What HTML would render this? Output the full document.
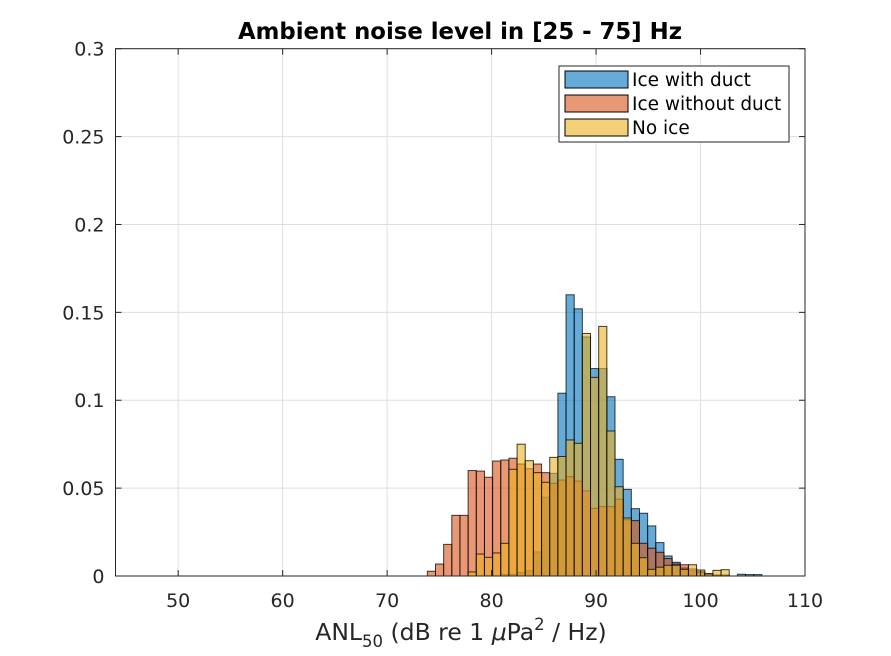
<!DOCTYPE html>
<html><head><meta charset="utf-8"><style>
body{margin:0;background:#fff;}
svg{display:block;font-family:"DejaVu Sans","Liberation Sans",sans-serif;}
</style></head><body>
<svg id="chart" width="891" height="656" viewBox="0 0 891 656">
<rect x="0" y="0" width="891" height="656" fill="#fff"/>
<g id="grid"></g>
<g id="bars"></g>
<g id="axes"></g>
<text x="460" y="39" text-anchor="middle" font-size="22.8" font-weight="bold" fill="#000">Ambient noise level in [25 - 75] Hz</text>
<text x="461" y="640" text-anchor="middle" font-size="23.5" fill="#262626">ANL<tspan font-size="16.5" dy="7">50</tspan><tspan dy="-7"> (dB re 1 </tspan><tspan font-style="italic">μ</tspan>Pa<tspan font-size="16.5" dy="-10">2</tspan><tspan dy="10"> / Hz)</tspan></text>
<g>
<rect x="559" y="66" width="230" height="76" fill="#fff" stroke="#262626" stroke-width="1"/>
<g><rect x="565" y="71" width="63" height="17" fill="rgb(0,114,189)" fill-opacity="0.6" stroke="#000"/><text x="632" y="86" font-size="18.5" fill="#000">Ice with duct</text></g>
<g><rect x="565" y="95" width="63" height="17" fill="rgb(217,83,25)" fill-opacity="0.6" stroke="#000"/><text x="632" y="110" font-size="18.5" fill="#000">Ice without duct</text></g>
<g><rect x="565" y="119" width="63" height="17" fill="rgb(237,177,32)" fill-opacity="0.6" stroke="#000"/><text x="632" y="134" font-size="18.5" fill="#000">No ice</text></g>
</g>
</svg>
<script>
const binStart = 73.85;
const binWidth = 0.781;
const xTicks = [50, 60, 70, 80, 90, 100, 110];
const yTicks = [0, 0.05, 0.1, 0.15, 0.2, 0.25, 0.3];
const yTickLabels = ["0", "0.05", "0.1", "0.15", "0.2", "0.25", "0.3"];
const iceWithDuct = [0,0,0,0,0,0,0,0,0,0.001,0.001,0.002,0.003,0.0137,0.0448,0.0584,0.104,0.160,0.152,0.136,0.118,0.118,0.102,0.0664,0.0493,0.0383,0.0357,0.0285,0.019,0.0114,0.0078,0.0046,0.003,0.0025,0.0013,0.0005,0.0005,0,0.001,0.0008,0.0008];
const iceWithoutDuct = [0.0027,0.0068,0.018,0.0345,0.0345,0.060,0.0597,0.0562,0.0654,0.066,0.067,0.0637,0.061,0.0637,0.0588,0.0527,0.0546,0.0565,0.054,0.0484,0.0385,0.0395,0.0395,0.0437,0.032,0.0315,0.0186,0.0158,0.0135,0.0099,0.0068,0.0064,0.004,0.002,0.001,0.0005,0.0005,0,0,0,0];
const noIce = [0,0,0,0,0,0.0023,0.0125,0.0106,0.0131,0.0186,0.0607,0.075,0.0656,0.0588,0.0533,0.0675,0.068,0.0774,0.0755,0.138,0.113,0.142,0.0825,0.0508,0.033,0.0186,0.0104,0.0038,0.005,0.0061,0.0061,0.0038,0.0064,0.0034,0.0013,0.0032,0.0036,0,0,0,0];

const L=115.5,R=805,T=48.7,B=576, xmin=44,xmax=110,ymin=0,ymax=0.3;
const xs=v=>L+(v-xmin)/(xmax-xmin)*(R-L);
const ys=v=>B-(v-ymin)/(ymax-ymin)*(B-T);
const NS="http://www.w3.org/2000/svg";
function mk(tag,attrs,parent){const e=document.createElementNS(NS,tag);for(const k in attrs)e.setAttribute(k,attrs[k]);parent.appendChild(e);return e;}
const grid=document.getElementById('grid'),bars=document.getElementById('bars'),axes=document.getElementById('axes');
mk('rect',{x:L,y:T,width:R-L,height:B-T,fill:'#fff'},grid);
xTicks.forEach(t=>{const l=mk('line',{x1:xs(t),x2:xs(t),y1:T,y2:B,stroke:'#dfdfdf','stroke-width':1},grid);

});
yTicks.forEach(t=>{const l=mk('line',{x1:L,x2:R,y1:ys(t),y2:ys(t),stroke:'#dfdfdf','stroke-width':1},grid);

});
function drawSeries(vals,color,name){
  vals.forEach((v,i)=>{ if(v<=0) return;
    const x0=xs(binStart+i*binWidth), x1=xs(binStart+(i+1)*binWidth);
    const r=mk('rect',{x:x0,y:ys(v),width:x1-x0,height:B-ys(v),fill:color,'fill-opacity':0.6,stroke:'#000','stroke-opacity':0.75,'stroke-width':1},bars);
    
    
  });
}
drawSeries(iceWithDuct,'rgb(0,114,189)','ice-with-duct');
drawSeries(iceWithoutDuct,'rgb(217,83,25)','ice-without-duct');
drawSeries(noIce,'rgb(237,177,32)','no-ice');
mk('rect',{x:L,y:T,width:R-L,height:B-T,fill:'none',stroke:'#262626','stroke-width':1},axes);
xTicks.forEach(t=>{
  mk('line',{x1:xs(t),x2:xs(t),y1:B,y2:B-6,stroke:'#262626'},axes);
  mk('line',{x1:xs(t),x2:xs(t),y1:T,y2:T+6,stroke:'#262626'},axes);
  const tx=mk('text',{x:xs(t),y:B+31,'text-anchor':'middle','font-size':19,fill:'#262626'},axes);
  tx.textContent=t;
  
  
});
yTicks.forEach((t,i)=>{
  mk('line',{x1:L,x2:L+6,y1:ys(t),y2:ys(t),stroke:'#262626'},axes);
  mk('line',{x1:R,x2:R-6,y1:ys(t),y2:ys(t),stroke:'#262626'},axes);
  const tx=mk('text',{x:L-11,y:ys(t)+7,'text-anchor':'end','font-size':19,fill:'#262626'},axes);
  tx.textContent=yTickLabels[i];
  
  
});
</script>
</body></html>
